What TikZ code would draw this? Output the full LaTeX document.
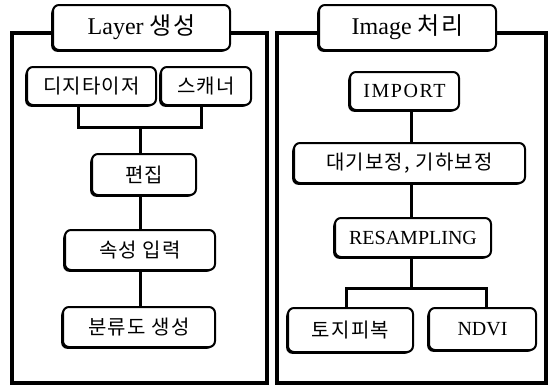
\documentclass[tikz,border=0pt]{standalone}
\usepackage{fontspec}
\setmainfont{Liberation Serif}
\newfontfamily\kr[LetterSpace=6]{Noto Sans CJK KR}
\usetikzlibrary{shadows}
\tikzset{
  box/.style={draw=black, line width=2pt, rounded corners=6pt, fill=white,
    inner sep=0pt, font=\fontsize{20}{24}\selectfont,
    drop shadow={shadow xshift=-1.8pt, shadow yshift=-1.8pt, fill=black, opacity=1}},
  titlebox/.style={box, font=\fontsize{24}{28}\selectfont},
  frame/.style={draw=black, line width=3.4pt, line join=miter},
  conn/.style={draw=black, line width=3pt}
}
\begin{document}
\begin{tikzpicture}[x=1pt,y=-1pt]
\useasboundingbox (0,0) rectangle (552,388);
% left panel
\node[titlebox, minimum width=177pt, minimum height=45pt] (t1) at (141.5,27.5) {Layer {\kr 생성}};
\node[box, minimum width=129pt, minimum height=38pt] (dig) at (91.5,86) {\kr 디지타이저};
\node[box, minimum width=90pt, minimum height=38pt] (scan) at (206,86) {\kr 스캐너};
\node[box, minimum width=104pt, minimum height=41pt] (edit) at (144,174.5) {\kr 편집};
\node[box, minimum width=150pt, minimum height=40pt] (attr) at (140,250) {\kr 속성 입력};
\node[box, minimum width=152pt, minimum height=40pt] (cls) at (139,327) {\kr 분류도 생성};
\coordinate (ftop1) at (0,33);
\coordinate (fl1) at (12,33);
\coordinate (fbl1) at (12,383);
\coordinate (fbr1) at (267,383);
\coordinate (fr1) at (267,33);
\draw[frame] (t1.west |- ftop1) -- (fl1) -- (fbl1) -- (fbr1) -- (fr1) -- (t1.east |- ftop1);
\coordinate (jn1) at (140,127);
\draw[conn] ([xshift=-13.5pt]dig.south) |- (jn1) -| ([xshift=-5pt]scan.south);
\draw[conn] (jn1) -- (jn1 |- edit.north);
\draw[conn] (attr.north |- edit.south) -- (attr.north);
\draw[conn] (attr.south) -- (attr.south |- cls.north);
% right panel
\node[titlebox, minimum width=177pt, minimum height=45pt] (t2) at (407.5,27.5) {Image {\kr 처리}};
\node[box, minimum width=109pt, minimum height=38pt] (imp) at (404.5,91) {\addfontfeatures{LetterSpace=8}IMPORT};
\node[box, minimum width=231pt, minimum height=40pt] (atm) at (409.5,163) {\kr 대기보정, 기하보정};
\node[box, minimum width=156pt, minimum height=39pt] (res) at (413,237.5) {RESAMPLING};
\node[box, minimum width=125pt, minimum height=44pt] (land) at (350.5,330) {\kr 토지피복};
\node[box, minimum width=107pt, minimum height=42pt] (ndvi) at (482.5,329) {NDVI};
\coordinate (ftop2) at (0,33);
\coordinate (fl2) at (277,33);
\coordinate (fbl2) at (277,383);
\coordinate (fbr2) at (546,383);
\coordinate (fr2) at (546,33);
\draw[frame] (t2.west |- ftop2) -- (fl2) -- (fbl2) -- (fbr2) -- (fr2) -- (t2.east |- ftop2);
\coordinate (sp) at (411,0);
\coordinate (jn2) at (411,288);
\draw[conn] (sp |- imp.south) -- (sp |- atm.north);
\draw[conn] (sp |- atm.south) -- (sp |- res.north);
\draw[conn] (sp |- res.south) -- (jn2);
\draw[conn] ([xshift=-4.5pt]land.north) |- (jn2) -| ([xshift=3.5pt]ndvi.north);
\end{tikzpicture}
\end{document}
